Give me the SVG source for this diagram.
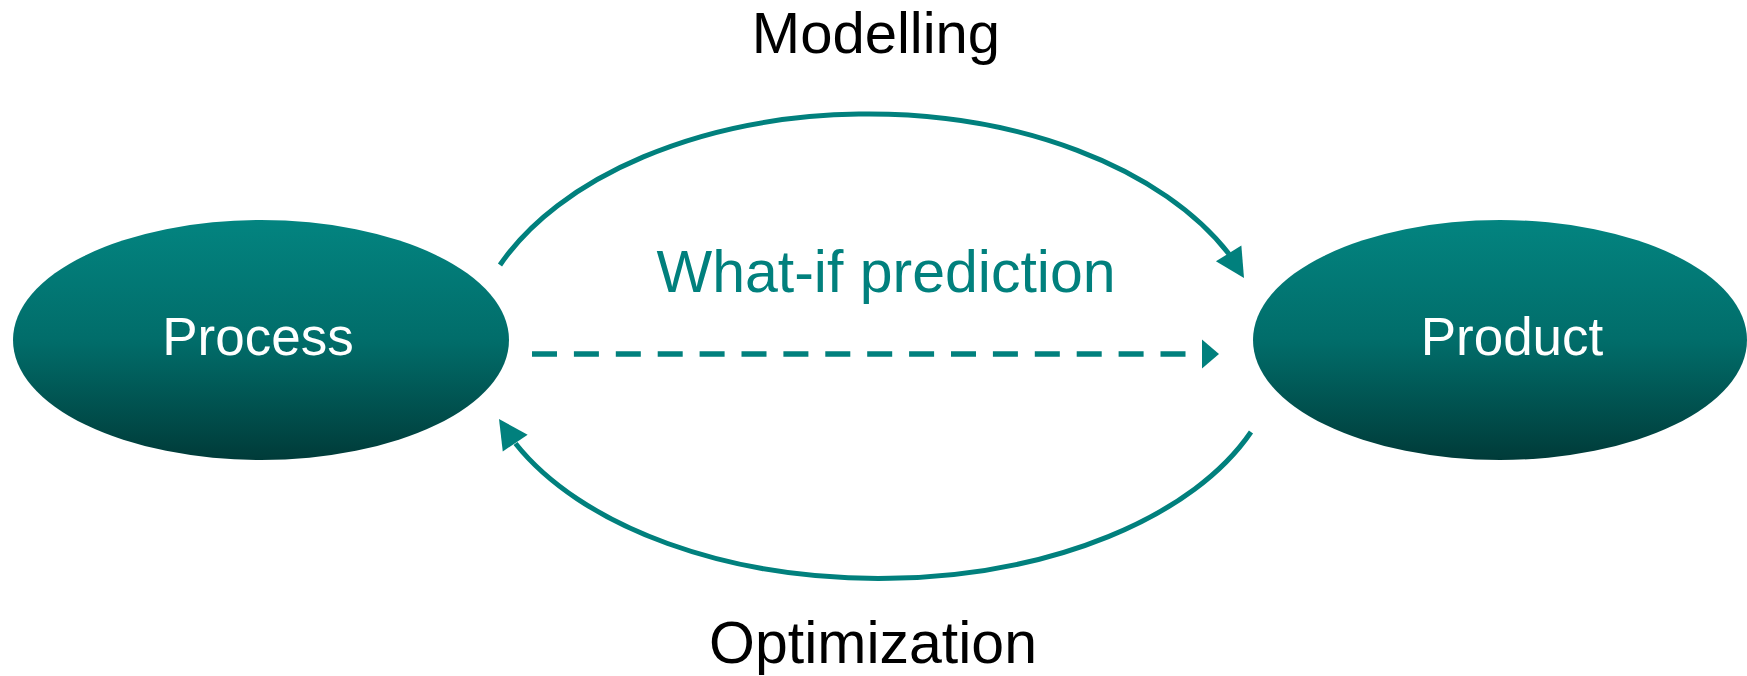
<svg xmlns="http://www.w3.org/2000/svg" width="1747" height="676" viewBox="0 0 1747 676">
  <style>
    .node-fill { fill: url(#tealShade); }
    .node-label { font-family: "Liberation Sans", Arial, sans-serif; font-size: 53px; fill: #ffffff; text-anchor: middle; }
    .caption { font-family: "Liberation Sans", Arial, sans-serif; font-size: 59px; fill: #000000; text-anchor: middle; }
    .teal-caption { fill: #01807d; }
    .arc { fill: none; stroke: #01807d; stroke-width: 5; stroke-linecap: butt; }
    .dash { fill: none; stroke: #01807d; stroke-width: 5.5; stroke-dasharray: 25 16.9; }
    .head { fill: #01807d; }
  </style>
  <defs>
    <linearGradient id="tealShade" x1="0" y1="0" x2="0" y2="1">
      <stop offset="0" stop-color="#038480"/>
      <stop offset="0.5" stop-color="#016d6a"/>
      <stop offset="1" stop-color="#003b39"/>
    </linearGradient>
    <!-- wide triangular head for the curved connectors, tip at origin, pointing +x -->
    <path id="curvedHead" d="M0,0 L-29,-15 L-29,15 Z"/>
    <!-- shorter head for the straight dashed connector -->
    <path id="straightHead" d="M0,0 L-17,-14.5 L-17,14.5 Z"/>
  </defs>

  <g id="process">
    <ellipse class="node-fill" cx="261" cy="340" rx="248" ry="120"/>
    <text class="node-label" x="258" y="355">Process</text>
  </g>

  <g id="product">
    <ellipse class="node-fill" cx="1500" cy="340" rx="247" ry="120"/>
    <text class="node-label" x="1512" y="355">Product</text>
  </g>

  <g id="connectors">
    <!-- Modelling: Process to Product over the top (elliptical arc) -->
    <path class="arc" d="M500,265 A400,247 0 0 1 1229,254"/>
    <use href="#curvedHead" class="head" transform="translate(1244,278) rotate(58)"/>
    <!-- What-if prediction: dashed straight link -->
    <path class="dash" d="M532,354 L1202,354"/>
    <use href="#straightHead" class="head" transform="translate(1219,354)"/>
    <!-- Optimization: Product back to Process underneath (elliptical arc) -->
    <path class="arc" d="M1251,432 A400,231.6 0 0 1 515.5,443.5"/>
    <use href="#curvedHead" class="head" transform="translate(499,419) rotate(-124)"/>
  </g>

  <g id="labels">
    <text class="caption" x="876" y="53" style="font-size:58px">Modelling</text>
    <text class="caption teal-caption" x="886" y="292">What-if prediction</text>
    <text class="caption" x="873" y="663">Optimization</text>
  </g>
</svg>
